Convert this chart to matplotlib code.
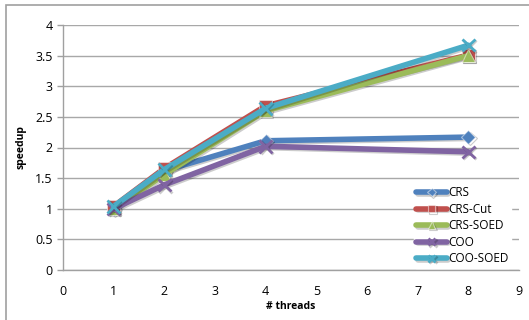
import matplotlib
matplotlib.use("Agg")
import matplotlib.pyplot as plt
import matplotlib.patheffects as pe
from matplotlib.patches import Rectangle

threads = [1, 2, 4, 8]
crs = [1.0, 1.62, 2.11, 2.17]
crs_cut = [1.04, 1.66, 2.68, 3.51]
crs_soed = [1.0, 1.56, 2.6, 3.5]
coo = [1.0, 1.39, 2.02, 1.93]
coo_soed = [1.04, 1.64, 2.64, 3.67]

series = [
    ("CRS", crs, "#4F81BD", "D", 7),
    ("CRS-Cut", crs_cut, "#C0504D", "s", 9),
    ("CRS-SOED", crs_soed, "#9BBB59", "^", 9),
    ("COO", coo, "#8064A2", "x", 9),
    ("COO-SOED", coo_soed, "#4BACC6", "x", 9),
]

plt.rcParams['font.family'] = ['Open Sans', 'DejaVu Sans']

fig = plt.figure(figsize=(5.29, 3.2), dpi=100)
fig.patches.append(Rectangle((6 / 529, -0.1), 1.2, 1.1 - 5 / 320, transform=fig.transFigure,
                             fill=False, edgecolor="#a0a0a0", linewidth=1.2))
ax = fig.add_axes([63 / 529, 50 / 320, 456 / 529, 245 / 320])

# light drop shadow like the spreadsheet chart
shadow = [pe.SimpleLineShadow(offset=(1, -1), alpha=0.2), pe.Normal()]
for name, vals, color, marker, ms in series:
    ax.plot(threads, vals, color=color, linewidth=4, marker=marker, markersize=ms,
            markeredgewidth=2 if marker == "x" else 0.8,
            markeredgecolor=color if marker == "x" else "#ffffff80",
            label=name, solid_capstyle="round", path_effects=shadow)

ax.set_xlim(0, 9)
ax.set_ylim(0, 4)
ax.set_xticks(range(0, 10))
ax.set_yticks([0, 0.5, 1, 1.5, 2, 2.5, 3, 3.5, 4])
ax.set_yticklabels(["0", "0.5", "1", "1.5", "2", "2.5", "3", "3.5", "4"])
ax.tick_params(labelsize=9, length=4, color="#a0a0a0", width=1)
ax.tick_params(axis="x", length=0, pad=11)
ax.grid(axis="y", color="#a8a8a8", linewidth=1)
ax.set_axisbelow(True)
for s in ["top", "right"]:
    ax.spines[s].set_visible(False)
for s in ["left", "bottom"]:
    ax.spines[s].set_color("#a0a0a0")
    ax.spines[s].set_linewidth(1)

ax.set_xlabel("# threads", fontsize=7.5, fontweight="bold", labelpad=2)
ax.set_ylabel("speedup", fontsize=7.5, fontweight="bold", labelpad=6)

leg = ax.legend(loc="lower right", bbox_to_anchor=(0.995, -0.015), frameon=True, fontsize=8.5,
                handlelength=2.6, handletextpad=0.1, labelspacing=0.3, borderpad=0.2,
                markerscale=0.6)
leg.get_frame().set_facecolor("white")
leg.get_frame().set_edgecolor("white")
leg.get_frame().set_alpha(1)

fig.savefig("out.png", dpi=100)
